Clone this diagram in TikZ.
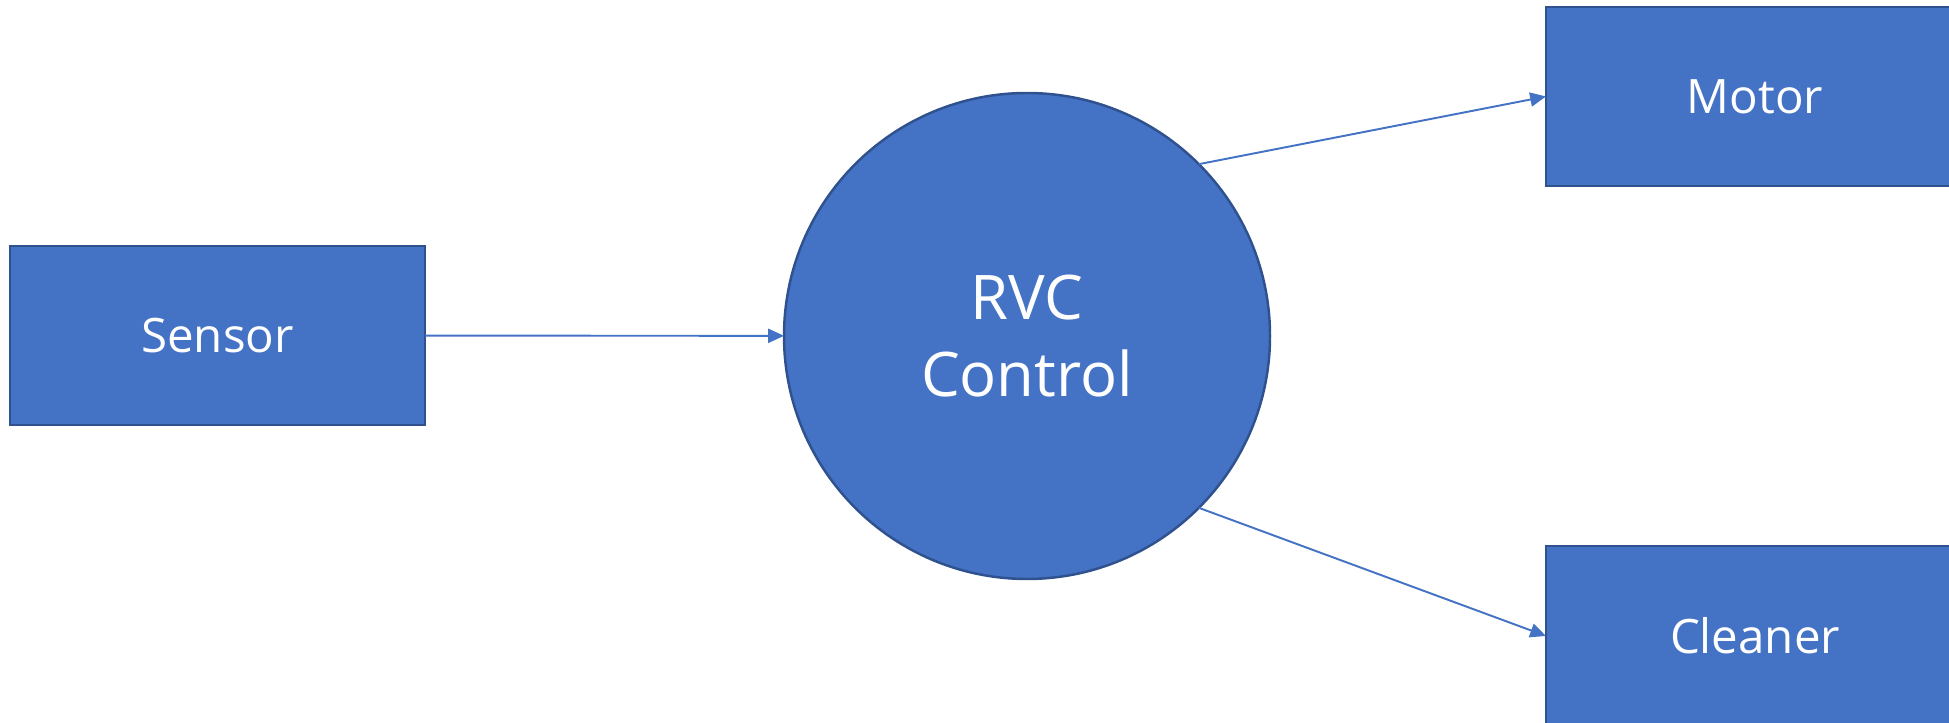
\documentclass[tikz,border=0pt]{standalone}
\usepackage{fontspec}
\setmainfont{Open Sans}
\usetikzlibrary{arrows.meta}
\definecolor{boxblue}{HTML}{4472C4}
\definecolor{boxedge}{HTML}{2F528F}
\begin{document}
\begin{tikzpicture}[
    block/.style={rectangle, draw=boxedge, fill=boxblue, line width=0.7pt,
      text=white, font=\fontsize{13.5}{16}\selectfont, outer sep=0pt},
    hub/.style={circle, draw=boxedge, fill=boxblue, line width=0.7pt,
      text=white, font=\fontsize{17.5}{22}\selectfont, align=center,
      minimum size=4.86cm, inner sep=0pt, outer sep=0pt},
    flow/.style={draw=boxblue, line width=0.55pt,
      -{Triangle[length=4.5pt, width=4pt]}}]
    \useasboundingbox (0,0) rectangle (19.49,-7.23);
    \clip (0,0) rectangle (19.49,-7.23);

    \node[block, minimum width=4.15cm, minimum height=1.79cm] (sensor) at (2.175,-3.355) {Sensor};
    \node[hub] (rvc) at (10.27,-3.36) {RVC\\Control};
    \node[block, minimum width=4.18cm, minimum height=1.785cm] (motor) at (17.55,-0.965) {Motor};
    \node[block, minimum width=4.18cm, minimum height=1.8cm] (cleaner) at (17.55,-6.36) {Cleaner};

    \draw[flow] (sensor) -- (rvc);
    \draw[flow] (rvc.45) -- (motor.west);
    \draw[flow] (rvc.-45) -- (cleaner.west);

  \end{tikzpicture}
\end{document}
